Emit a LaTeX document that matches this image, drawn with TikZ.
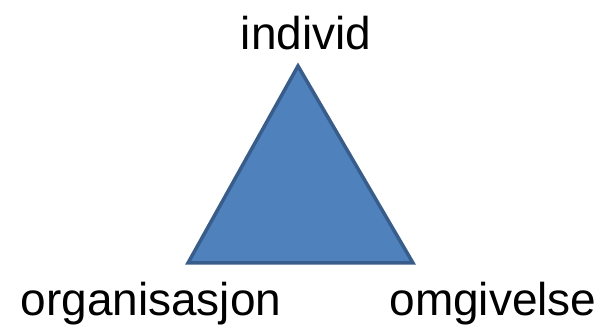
\documentclass[tikz,border=0pt]{standalone}
\usepackage{fontspec}
\setmainfont{Liberation Sans}
\definecolor{trifill}{HTML}{4F81BD}
\definecolor{triedge}{HTML}{385D8A}
\begin{document}
\begin{tikzpicture}[
    x=1pt,y=-1pt,
    line join=miter,
    tri/.style={fill=trifill,draw=triedge,line width=3.5pt},
    lbl/.style={anchor=base,inner sep=0pt,font=\fontsize{46}{46}\selectfont}
]

\useasboundingbox (0,0) rectangle (610,328);

% -------------------------------------------------
% Hjørner av trekanten
% -------------------------------------------------

\coordinate (T) at (298,66);
\coordinate (L) at (188,263);
\coordinate (R) at (413,263);

% -------------------------------------------------
% Trekanten
% -------------------------------------------------

\draw[tri] (T)--(R)--(L)--cycle;

% -------------------------------------------------
% Etiketter
% -------------------------------------------------

\node[lbl] (individ) at (306,50) {individ};
\node[lbl] (organisasjon) at (151,316) {organisasjon};
\node[lbl] (omgivelse) at (493,316) {omgivelse};

\end{tikzpicture}
\end{document}
